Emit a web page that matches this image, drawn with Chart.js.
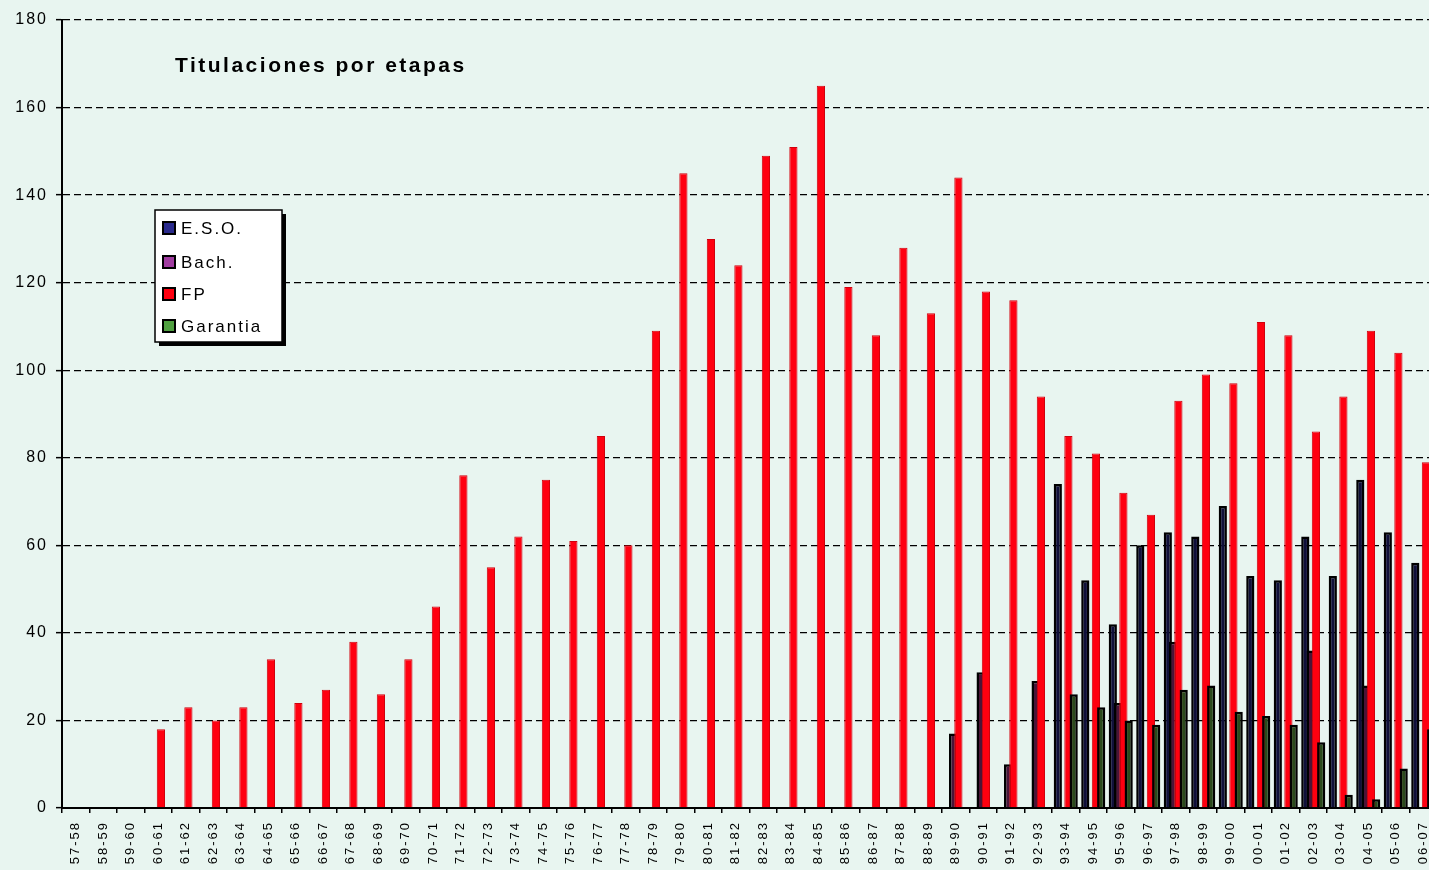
<!DOCTYPE html>
<html>
<head>
<meta charset="utf-8">
<script src="https://cdn.jsdelivr.net/npm/chart.js@4.4.1/dist/chart.umd.min.js"></script>
<style>
  html, body { margin: 0; padding: 0; overflow: hidden; background: #e8f5f0; }
  canvas { display: block; }
</style>
</head>
<body>
<canvas id="myChart" width="1437" height="870"></canvas>
<script>
const cursos = [
  "57-58", "58-59", "59-60", "60-61", "61-62", "62-63", "63-64", "64-65", "65-66", "66-67",
  "67-68", "68-69", "69-70", "70-71", "71-72", "72-73", "73-74", "74-75", "75-76", "76-77",
  "77-78", "78-79", "79-80", "80-81", "81-82", "82-83", "83-84", "84-85", "85-86", "86-87",
  "87-88", "88-89", "89-90", "90-91", "91-92", "92-93", "93-94", "94-95", "95-96", "96-97",
  "97-98", "98-99", "99-00", "00-01", "01-02", "02-03", "03-04", "04-05", "05-06", "06-07"
];

const eso = [
  null, null, null, null, null, null, null, null, null, null,
  null, null, null, null, null, null, null, null, null, null,
  null, null, null, null, null, null, null, null, null, null,
  null, null, null, null, null, null, 74, 52, 42, 60,
  63, 62, 69, 53, 52, 62, 53, 75, 63, 56
];

const bach = [
  null, null, null, null, null, null, null, null, null, null,
  null, null, null, null, null, null, null, null, null, null,
  null, null, null, null, null, null, null, null, null, null,
  null, null, 17, 31, 10, 29, null, null, 24, null,
  38, null, null, null, null, 36, null, 28, null, null
];

const fp = [
  null, null, null, 18, 23, 20, 23, 34, 24, 27,
  38, 26, 34, 46, 76, 55, 62, 75, 61, 85,
  60, 109, 145, 130, 124, 149, 151, 165, 119, 108,
  128, 113, 144, 118, 116, 94, 85, 81, 72, 67,
  93, 99, 97, 111, 108, 86, 94, 109, 104, 79
];

const garantia = [
  null, null, null, null, null, null, null, null, null, null,
  null, null, null, null, null, null, null, null, null, null,
  null, null, null, null, null, null, null, null, null, null,
  null, null, null, null, null, null, 26, 23, 20, 19,
  27, 28, 22, 21, 19, 15, 3, 2, 9, 18
];

const yTicks = [0, 20, 40, 60, 80, 100, 120, 140, 160, 180];

const fondo = "#e8f5f0";

// fondo + espaciado de letras para todo el texto
const fondoPlugin = {
  id: "fondo",
  beforeDraw(chart) {
    const ctx = chart.ctx;
    ctx.save();
    ctx.fillStyle = fondo;
    ctx.fillRect(0, 0, chart.width, chart.height);
    ctx.restore();
    ctx.letterSpacing = "2px";
  }
};

// dibujar las series en orden (la ultima encima), como en Excel
const ordenPlugin = {
  id: "orden",
  beforeDatasetsDraw(chart) {
    const ctx = chart.ctx;
    const a = chart.chartArea;
    chart.getSortedVisibleDatasetMetas().forEach(function (meta) {
      ctx.save();
      ctx.beginPath();
      ctx.rect(a.left, a.top - 2, a.right - a.left, a.bottom - a.top + 2);
      ctx.clip();
      meta.controller.draw();
      ctx.restore();
    });
    return false;
  }
};

// titulo y leyenda dentro del area
const textoPlugin = {
  id: "texto",
  afterDraw(chart) {
    const ctx = chart.ctx;
    ctx.save();
    ctx.letterSpacing = "2.5px";
    ctx.fillStyle = "#000";
    ctx.font = "bold 21px 'Liberation Sans', Arial, sans-serif";
    ctx.textBaseline = "middle";
    ctx.textAlign = "left";
    ctx.fillText("Titulaciones por etapas", 175, 66);

    // leyenda
    const x0 = 155, y0 = 210, w = 127, h = 132;
    ctx.fillStyle = "#000";
    ctx.fillRect(x0 + 4, y0 + 4, w, h);
    ctx.fillStyle = "#fff";
    ctx.fillRect(x0, y0, w, h);
    ctx.strokeStyle = "#000";
    ctx.lineWidth = 1.5;
    ctx.strokeRect(x0, y0, w, h);

    const filas = [228, 262, 294, 326];
    ctx.font = "17px 'Liberation Sans', Arial, sans-serif";
    ctx.letterSpacing = "2px";
    chart.data.datasets.forEach(function (ds, i) {
      const y = filas[i];
      ctx.fillStyle = "#000";
      ctx.fillRect(162, y - 7, 14, 14);
      ctx.fillStyle = ds.legendColor;
      ctx.fillRect(164, y - 5, 10, 10);
      ctx.fillStyle = "#000";
      ctx.fillText(ds.label, 181, y + 1);
    });
    ctx.restore();
  }
};

const ctx = document.getElementById("myChart").getContext("2d");

const myChart = new Chart(ctx, {
  type: "bar",
  data: {
    labels: cursos,
    datasets: [
      {
        label: "E.S.O.",
        data: eso,
        backgroundColor: "#10103a",
        borderColor: "#000",
        borderWidth: 2.5,
        legendColor: "#2a2a8c"
      },
      {
        label: "Bach.",
        data: bach,
        backgroundColor: "#4a1438",
        borderColor: "#000",
        borderWidth: 2.5,
        legendColor: "#a03ca0"
      },
      {
        label: "FP",
        data: fp,
        backgroundColor: "#ff0010",
        borderColor: "#d0000c",
        borderWidth: 1,
        legendColor: "#ff0010"
      },
      {
        label: "Garantia",
        data: garantia,
        backgroundColor: "#2a4a1c",
        borderColor: "#000",
        borderWidth: 2.5,
        legendColor: "#50a040"
      }
    ]
  },
  options: {
    responsive: false,
    animation: false,
    layout: { padding: { top: 20, left: 0, right: 0, bottom: 0 } },
    datasets: {
      bar: {
        categoryPercentage: 0.77,
        barPercentage: 1.55,
        borderSkipped: "start"
      }
    },
    scales: {
      x: {
        offset: true,
        grid: {
          display: true,
          drawOnChartArea: false,
          drawTicks: true,
          tickLength: 5,
          color: "#000",
          lineWidth: 1.5
        },
        border: { display: true, color: "#000", width: 2 },
        ticks: {
          autoSkip: false,
          minRotation: 90,
          maxRotation: 90,
          padding: 8,
          color: "#000",
          font: { family: "'Liberation Sans', Arial, sans-serif", size: 13 }
        },
        afterFit(scale) {
          scale.height = 62;
          scale.paddingLeft = 0;
          scale.paddingRight = 0;
        }
      },
      y: {
        min: 0,
        max: 180,
        afterBuildTicks(scale) {
          scale.ticks = yTicks.map(function (v) { return { value: v }; });
        },
        grid: {
          color: "#000",
          lineWidth: 1.3,
          tickLength: 6,
          tickColor: "#000",
          tickWidth: 1.5
        },
        border: { display: true, color: "#000", width: 2, dash: [7, 4] },
        ticks: {
          padding: 8,
          color: "#000",
          font: { family: "'Liberation Sans', Arial, sans-serif", size: 16 }
        },
        afterFit(scale) {
          scale.width = 62;
        }
      }
    },
    plugins: {
      legend: { display: false },
      title: { display: false },
      tooltip: { enabled: false }
    }
  },
  plugins: [fondoPlugin, ordenPlugin, textoPlugin]
});
</script>
</body>
</html>
